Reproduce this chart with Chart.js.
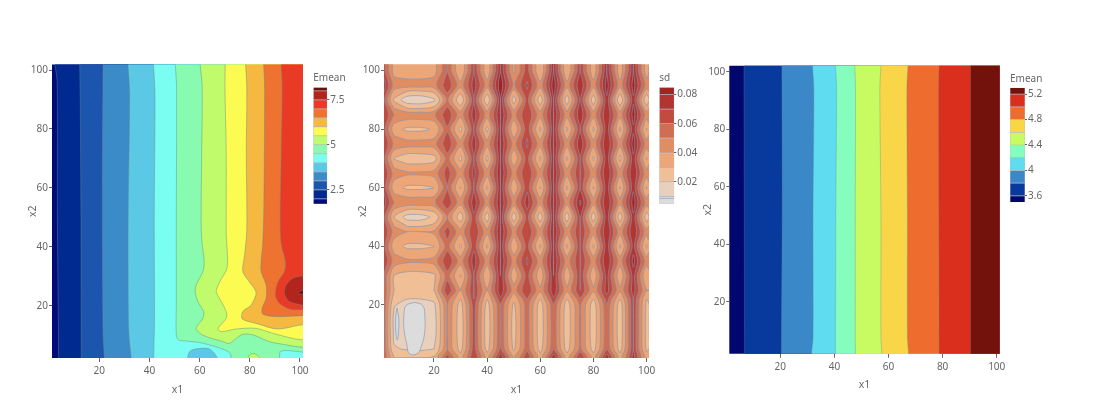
<!DOCTYPE html>
<html><head><meta charset="utf-8">
<script src="https://cdn.jsdelivr.net/npm/chart.js@4/dist/chart.umd.js"></script>
<style>
html,body{margin:0;padding:0;background:#fff;width:1102px;height:406px;overflow:hidden}
canvas{position:absolute;display:block}
</style></head><body>
<canvas id="c1"></canvas><canvas id="c2"></canvas><canvas id="c3"></canvas>
<canvas id="b1"></canvas><canvas id="b2"></canvas><canvas id="b3"></canvas>
<script>
// ---------- shared ticks ----------
const xTicks=[20,40,60,80,100];
const yTicks=[20,40,60,80,100];

// ---------- left panel: Emean contours, region at or above each level ----------
const e1Levels=[2,2.5,3,3.5,4,4.5,5,5.5,6,6.5,7,7.5,8];
const e1Colors=['#000a78','#012a90','#1b55ad','#3b8bc9','#5bc8e6','#7bfef2','#88fbb0','#c0fb6c','#fbfb52','#f5b840','#ee7230','#e93a26','#b3241c','#6f1008'];
const e1L20=[[2.3,102],[3.2,96],[3.3,50],[3.8,2]];
const e1L25=[[12.2,102],[12.4,90],[12.7,50],[12.8,2]];
const e1L30=[[21.5,102],[21.2,60],[21.5,10],[22,2]];
const e1L35=[[31.4,102],[32.1,92],[31.5,50],[31.6,15],[32,8],[32.7,2]];
const e1L40=[[41.6,102],[42.2,92],[41.9,50],[42,15],[41.7,2]];
const e1L45=[[50.3,102],[50.8,94],[50.7,50],[50.7,20],[50.7,10],[51.6,8.4],[54.7,8],[60,7.5],[66.6,6],[71.9,4.1],[72.6,2]];
const e1L50=[[60.2,102],[61,94],[60.8,71],[60.6,48.5],[60.9,41.7],[61.8,35],[61.3,31.6],[58.6,27],[58.2,24.8],[59.3,21.4],[61.6,18],[61.3,15.7],[58.6,12.3],[61.3,10],[69.3,7.8],[71.9,7.2],[74.6,8.9],[77.2,10.3],[81.2,10.1],[87.8,7.8],[93.2,6.9],[101.2,5.9]];
const e1L55=[[70.2,102],[70.1,94],[70.6,71],[70.6,44],[71,33],[67.9,28],[66.6,24.8],[67.9,22.5],[70.6,18],[70.6,15.7],[67.3,12.3],[68.6,11.2],[74.6,12.1],[82.5,12.3],[90.5,10.3],[101.2,8.4]];
const e1L60=[[78.3,102],[78.8,94],[78.6,71],[78.8,46],[77.9,37],[77.2,31.6],[79.9,28],[82.5,24.5],[80.5,20.2],[77.2,18],[77,15.5],[82.5,14],[91.2,12.1],[101.2,13.5]];
const e1L65=[[85.5,102],[85.9,94],[85.6,54],[85.2,41.7],[84.5,35],[84.5,31.6],[86.5,27],[86.5,22.5],[84.9,19.1],[85.2,17.1],[90.5,16.3],[101.2,16.6]];
const e1L70=[[92.5,102],[92.9,94],[92.5,71],[92.1,48.5],[92.5,41],[94.2,35],[93.8,31.6],[91.2,28],[90.2,23.6],[91.8,20.8],[95.8,18.9],[101.2,18.6]];
const e1L75=[[103,30.1],[101.1,30.1],[97.1,29.3],[94.5,27],[93.8,24.2],[95.8,21.4],[101.1,20.2],[103,20.2]];
const e1L80=[[103,25.6],[99.1,24.5],[103,23.4]];
const e1SkyPatch=[[54.9,0],[56,4.4],[60,5.5],[64.6,5],[68.6,0]];
const e1CyanPatch=[[91.8,0],[92.1,4.4],[94.5,4.8],[99.8,4.4],[103,3.8],[103,0]];
const e1LimePatch=[[78.6,0],[79.9,3.3],[82.5,3.5],[85.9,0]];

// ---------- right panel: Emean contours ----------
const e3Levels=[3.6,3.8,4,4.2,4.4,4.6,4.8,5,5.2];
const e3Colors=['#00086f','#083a9e','#3a88c8','#5fdcf0','#85fdbc','#c8fb62','#f8d648','#ed6c2e','#db2f1e','#73120d'];
const e3L36=[[6.6,102],[6.7,50],[6.8,2]];
const e3L38=[[20.6,102],[20.7,50],[20.4,2]];
const e3L40=[[31.9,102],[32.4,94],[32.1,50],[32.1,7.5],[31.6,2]];
const e3L42=[[40.4,102],[40.8,94],[40.5,50],[40.4,7.5],[40.4,2]];
const e3L44=[[47.5,102],[47.8,94],[47.7,50],[47.7,7.5],[47.8,2]];
const e3L46=[[57.2,102],[56.8,94],[57.2,50],[57.2,7.5],[57.5,2]];
const e3L48=[[67.2,102],[66.8,94],[67,50],[67,7.5],[67.4,2]];
const e3L50=[[78.7,102],[78.5,94],[78.6,50],[78.7,2]];
const e3L52=[[90.3,102],[90.3,50],[90.3,2]];

// ---------- middle panel: sd read on a coarse grid ----------
const sdLevels=[0.01,0.02,0.03,0.04,0.05,0.06,0.07,0.08];
const sdColors=['#dcdcdc','#e9d0bc','#f0bf96','#eca678','#e18d62','#d06e54','#c04b3e','#b33532','#a32424'];
const sdX=[1,5,10,15,20,25,30,35,40,45,50,55,60,65,70,75,80,85,90,95,100,101];
const sdY=[102,100,95,90,85,80,75,70,65,60,55,50,45,40,35,30,25,22,20,15,10,5,2];
const sdGrid=[
[.065,.036,.034,.034,.036,.06,.03,.07,.032,.08,.038,.065,.03,.08,.03,.07,.033,.08,.033,.08,.034,.04],
[.065,.036,.034,.034,.036,.06,.03,.07,.032,.08,.038,.065,.03,.08,.03,.07,.033,.08,.033,.08,.034,.04],
[.075,.046,.045,.045,.046,.068,.044,.075,.045,.088,.048,.072,.044,.086,.044,.079,.044,.085,.044,.085,.046,.048],
[.065,.028,.014,.013,.018,.052,.022,.07,.022,.08,.025,.065,.024,.08,.024,.072,.024,.078,.022,.078,.022,.03],
[.07,.05,.047,.047,.048,.068,.044,.075,.045,.08,.046,.07,.044,.08,.044,.078,.044,.08,.044,.085,.045,.048],
[.065,.034,.028,.028,.031,.058,.027,.07,.027,.08,.031,.067,.028,.08,.028,.07,.028,.078,.028,.078,.029,.035],
[.07,.048,.045,.045,.046,.068,.044,.075,.044,.08,.046,.072,.044,.08,.044,.078,.044,.08,.044,.085,.045,.048],
[.065,.03,.024,.024,.026,.055,.027,.07,.027,.08,.032,.065,.028,.08,.028,.07,.028,.078,.027,.078,.029,.035],
[.07,.046,.042,.042,.044,.065,.044,.073,.044,.08,.046,.07,.044,.08,.044,.07,.044,.08,.044,.08,.044,.048],
[.068,.034,.028,.028,.03,.06,.029,.07,.028,.08,.031,.068,.029,.08,.028,.07,.029,.078,.029,.078,.029,.035],
[.075,.05,.048,.048,.048,.068,.044,.076,.045,.08,.046,.075,.044,.08,.044,.082,.044,.08,.044,.086,.045,.048],
[.065,.03,.016,.016,.022,.05,.024,.068,.024,.08,.024,.065,.024,.08,.024,.072,.024,.078,.024,.078,.024,.03],
[.07,.046,.04,.04,.042,.065,.043,.07,.043,.08,.046,.07,.044,.08,.044,.07,.044,.08,.044,.08,.044,.048],
[.065,.034,.028,.028,.03,.055,.028,.068,.028,.08,.031,.065,.028,.08,.028,.07,.028,.078,.028,.075,.028,.035],
[.07,.046,.042,.042,.044,.07,.045,.075,.045,.08,.046,.072,.045,.08,.045,.07,.045,.08,.045,.084,.045,.048],
[.06,.03,.026,.026,.028,.055,.029,.07,.03,.08,.032,.065,.032,.08,.032,.07,.032,.075,.032,.075,.03,.035],
[.06,.03,.027,.027,.03,.07,.04,.07,.04,.078,.045,.07,.042,.078,.042,.07,.042,.075,.042,.075,.04,.04],
[.06,.025,.02,.02,.022,.055,.03,.07,.03,.068,.032,.06,.03,.068,.03,.058,.03,.065,.03,.07,.03,.032],
[.06,.021,.015,.013,.018,.05,.026,.066,.026,.06,.028,.056,.025,.06,.025,.052,.025,.06,.025,.07,.028,.03],
[.06,.017,.013,.012,.016,.05,.024,.065,.024,.06,.026,.056,.024,.058,.024,.052,.024,.058,.024,.07,.027,.03],
[.06,.018,.013,.012,.016,.05,.024,.065,.024,.06,.026,.056,.024,.058,.024,.052,.024,.058,.024,.07,.027,.03],
[.06,.021,.019,.018,.02,.05,.026,.066,.026,.062,.028,.057,.026,.06,.026,.053,.026,.06,.026,.07,.028,.03],
[.06,.03,.03,.03,.032,.065,.035,.07,.036,.078,.038,.068,.035,.078,.035,.072,.035,.078,.035,.075,.036,.04]
];
const sdGrayBlob=[[12.7,20.9],[15.8,19.8],[16.6,15.5],[16.4,9.8],[15.2,5.8],[13.9,3.5],[10.8,3.3],[9.8,6.4],[8.7,12],[8.7,16.6],[9.5,19.8],[12.7,20.9]];
const sdBlueSliver=[[6.1,19],[6.8,15],[6.6,10],[6.2,8],[5.7,10],[5.5,15],[6.1,19]];

// ---------- colour bars ----------
const bar1Edges=[1.72,2,2.5,3,3.5,4,4.5,5,5.5,6,6.5,7,7.5,8,8.2];
const bar1Ticks=[2.5,5,7.5];
const bar2Edges=[0.005,0.0085,0.01,0.02,0.03,0.04,0.05,0.06,0.07,0.08,0.085];
const bar2Colors=['#dcdcdc','#c9dbe8','#e9d0bc','#f0bf96','#eca678','#e18d62','#d06e54','#c04b3e','#b33532','#a32424'];
const bar2Ticks=[0.02,0.04,0.06,0.08];
const bar2Labels=['0.02','0.04','0.06','0.08'];
const bar3Edges=[3.5,3.6,3.8,4,4.2,4.4,4.6,4.8,5,5.2,5.3];
const bar3Ticks=[3.6,4,4.4,4.8,5.2];

// ---------- helpers ----------
const FONT="'Noto Sans','DejaVu Sans Condensed',sans-serif";
const TXT='#666';
Chart.defaults.font.family=FONT;
Chart.defaults.animation=false;
Chart.register({id:'narrowText',beforeDraw(chart){chart.ctx.fontStretch='extra-condensed';}});

function pts(a){return a.map(p=>({x:p[0],y:p[1]}));}
function regionPoly(a){
  const f=a[0],l=a[a.length-1];
  const tail=l[1]<=2.2?[[l[0],-30],[140,-30],[140,140],[f[0],140]]
    :(l[0]>=103?[]:[[140,l[1]],[140,140],[f[0],140]]);
  return pts(a.concat(tail));
}
function ds(points,color,line,width,tension){
  return {data:points,showLine:true,fill:'shape',backgroundColor:color,
    borderColor:line,borderWidth:width,pointRadius:0,pointHoverRadius:0,
    tension:tension,capBezierPoints:false};
}
function withOrder(list){list.forEach((d,k)=>d.order=-k);return list;}

// contour loops of a grid: high side kept on the left of the walk
function loops(xs,ys,z,level){
  const pt=(i,j,d)=>{
    const a=z[j][i],b=d?z[j+1][i]:z[j][i+1];
    const t=0.5*((level-a)/(b-a))+0.5*(Math.log(level/a)/Math.log(b/a));
    return d?{x:xs[i],y:ys[j]+t*(ys[j+1]-ys[j])}:{x:xs[i]+t*(xs[i+1]-xs[i]),y:ys[j]};
  };
  const table={1:[['B','L']],2:[['R','B']],4:[['T','R']],8:[['L','T']],3:[['R','L']],6:[['T','B']],12:[['L','R']],9:[['B','T']],
    7:[['T','L']],14:[['L','B']],13:[['B','R']],11:[['R','T']],5:[['B','L'],['T','R']],10:[['R','B'],['L','T']]};
  const next=new Map();
  for(let j=0;j<ys.length-1;j++)for(let i=0;i<xs.length-1;i++){
    const c=(z[j][i]>=level?1:0)|(z[j][i+1]>=level?2:0)|(z[j+1][i+1]>=level?4:0)|(z[j+1][i]>=level?8:0);
    if(!table[c])continue;
    const e={B:[i,j,0],R:[i+1,j,1],T:[i,j+1,0],L:[i,j,1]};
    for(const [s,t] of table[c])next.set(e[s].join(),e[t]);
  }
  const out=[];
  while(next.size){
    const startKey=next.keys().next().value;
    let key=startKey;const path=[];
    while(next.has(key)){
      const p=key.split(',').map(Number);path.push(pt(p[0],p[1],p[2]));
      const n=next.get(key);next.delete(key);key=n.join();
    }
    let area=0;
    for(let k=0;k<path.length;k++){const a=path[k],b=path[(k+1)%path.length];area+=a.x*b.y-b.x*a.y;}
    path.push(path[0]);
    out.push({path,area:area/2});
  }
  return out;
}
function sdDatasets(){
  const FLOOR=1e-4;
  const xs=[-60].concat(sdX,[160]);
  const ysUp=sdY.slice().reverse();
  const ys=[-60].concat(ysUp,[160]);
  const rows=sdGrid.slice().reverse().map(r=>[FLOOR].concat(r,[FLOOR]));
  const blank=xs.map(()=>FLOOR);
  const z=[blank].concat(rows,[blank]);
  const line='rgba(132,148,176,0.8)';
  const all=[];
  sdLevels.forEach((lv,n)=>{
    loops(xs,ys,z,lv).forEach(l=>all.push({path:l.path,abs:Math.abs(l.area),color:sdColors[l.area>0?n+1:n]}));
  });
  all.sort((a,b)=>b.abs-a.abs);
  const list=all.map(l=>ds(l.path,l.color,line,0.8,0.3));
  list.push(ds(pts(sdGrayBlob),sdColors[0],line,0.8,0.4));
  list.push(ds(pts(sdBlueSliver),'#c9dbe8',line,0.8,0.4));
  return withOrder(list);
}
function e1Datasets(){
  const line='rgba(105,135,135,0.45)';
  const regions=[e1L20,e1L25,e1L30,e1L35,e1L40,e1L45,e1L50,e1L55,e1L60,e1L65,e1L70,e1L75,e1L80];
  const list=[ds(pts([[-20,-20],[140,-20],[140,140],[-20,140]]),e1Colors[0],'transparent',0,0)];
  regions.forEach((r,k)=>list.push(ds(regionPoly(r),e1Colors[k+1],line,1,0.3)));
  list.push(ds(pts(e1SkyPatch),e1Colors[4],line,1,0.35));
  list.push(ds(pts(e1CyanPatch),e1Colors[5],line,1,0.2));
  list.push(ds(pts(e1LimePatch),e1Colors[7],line,1,0.35));
  return withOrder(list);
}
function e3Datasets(){
  const line='rgba(105,135,135,0.35)';
  const regions=[e3L36,e3L38,e3L40,e3L42,e3L44,e3L46,e3L48,e3L50,e3L52];
  const list=[ds(pts([[-20,-20],[140,-20],[140,140],[-20,140]]),e3Colors[0],'transparent',0,0)];
  regions.forEach((r,k)=>list.push(ds(regionPoly(r),e3Colors[k+1],line,1,0.3)));
  return withOrder(list);
}
function place(c,l,t,w,h){
  c.width=w;c.height=h;
  c.style.left=l+'px';c.style.top=t+'px';c.style.width=w+'px';c.style.height=h+'px';
}
function contour(id,g,datasets){
  const c=document.getElementById(id);
  place(c,g.cl,g.ct,g.cw,g.ch);
  const yW=g.left-g.cl,xH=g.ct+g.ch-g.bottom;
  const scale=(axisTicks,min,max,title,fit,tp)=>({
    type:'linear',min,max,
    afterBuildTicks:s=>{s.ticks=axisTicks.map(v=>({value:v}));},
    afterFit:fit,
    grid:{drawOnChartArea:false,drawTicks:true,tickLength:tp.len,tickColor:'#666',tickWidth:1},
    border:{display:false},
    ticks:{color:TXT,font:{size:g.fs,family:FONT},padding:tp.pad,autoSkip:false,maxRotation:0,minRotation:0},
    title:{display:true,text:title,color:TXT,font:{size:g.tfs,family:FONT},padding:tp.title}
  });
  return new Chart(c,{type:'scatter',data:{datasets},options:{
    responsive:false,animation:false,events:[],
    layout:{padding:{left:0,bottom:0,top:g.top-g.ct,right:g.cl+g.cw-g.right}},
    plugins:{legend:{display:false},tooltip:{enabled:false},title:{display:false}},
    scales:{
      x:scale(xTicks,g.x[0],g.x[1],'x1',s=>{s.height=xH;},{len:4,pad:3,title:{top:0,bottom:g.xtb}}),
      y:scale(yTicks,g.y[0],g.y[1],'x2',s=>{s.width=yW;},{len:3,pad:1,title:{top:g.ytt,bottom:0}})
    }
  }});
}
function colorbar(id,g,edges,colors,ticks,title,labels){
  const c=document.getElementById(id);
  place(c,g.cl,g.ct,g.cw,g.ch);
  const datasets=colors.map((col,k)=>({data:[[edges[k],edges[k+1]]],backgroundColor:col,
    borderColor:'rgba(125,135,150,0.5)',borderWidth:0.7,barPercentage:1,categoryPercentage:1,grouped:false,borderSkipped:false}));
  const yW=g.cl+g.cw-g.right;
  return new Chart(c,{type:'bar',data:{labels:[''],datasets},options:{
    responsive:false,animation:false,events:[],
    layout:{padding:{left:g.left-g.cl,top:0,right:0,bottom:g.ct+g.ch-g.bottom}},
    plugins:{legend:{display:false},tooltip:{enabled:false},
      title:{display:true,text:title,align:'start',color:TXT,font:{size:g.fs,family:FONT,weight:'normal',lineHeight:1.2},
        padding:{top:g.tpt,bottom:g.top-g.ct-g.tpt-g.fs*1.2}}},
    scales:{
      x:{display:false,grid:{display:false}},
      y:{type:'linear',position:'right',min:edges[0],max:edges[edges.length-1],
        afterBuildTicks:s=>{s.ticks=ticks.map(v=>({value:v}));},
        afterFit:s=>{s.width=yW;},
        grid:{drawOnChartArea:false,tickLength:2,tickColor:'#666'},border:{display:false},
        ticks:{color:TXT,font:{size:g.fs,family:FONT},padding:1,autoSkip:false,
          callback:v=>{const k=ticks.indexOf(v);return labels?labels[k]:String(v);}}}
    }
  }});
}

contour('c1',{cl:20,ct:55,cw:293,ch:345,left:52,right:303,top:64.5,bottom:358,x:[1.15,101.2],y:[2.25,101.87],fs:10,tfs:10.5,xtb:4,ytt:7},e1Datasets());
contour('c2',{cl:355,ct:55,cw:304,ch:345,left:384,right:649,top:64.5,bottom:358,x:[1.2,100.9],y:[1.9,102.1],fs:10,tfs:10.5,xtb:4,ytt:2},sdDatasets());
contour('c3',{cl:700,ct:55,cw:310,ch:340,left:729.3,right:999.7,top:65.7,bottom:353.7,x:[1.15,101.1],y:[1.9,102.1],fs:10,tfs:10.5,xtb:4,ytt:2},e3Datasets());

colorbar('b1',{cl:313,ct:72,cw:40,ch:146,left:313.3,right:327.3,top:87.3,bottom:204,fs:10,tpt:0},bar1Edges,e1Colors,bar1Ticks,'Emean');
colorbar('b2',{cl:659,ct:72,cw:40,ch:146,left:659.3,right:674.3,top:87.3,bottom:203.7,fs:10,tpt:0},bar2Edges,bar2Colors,bar2Ticks,'sd',bar2Labels);
colorbar('b3',{cl:1010,ct:73,cw:40,ch:146,left:1010,right:1025,top:87.7,bottom:202.3,fs:10,tpt:0},bar3Edges,e3Colors,bar3Ticks,'Emean');
</script>
</body></html>
